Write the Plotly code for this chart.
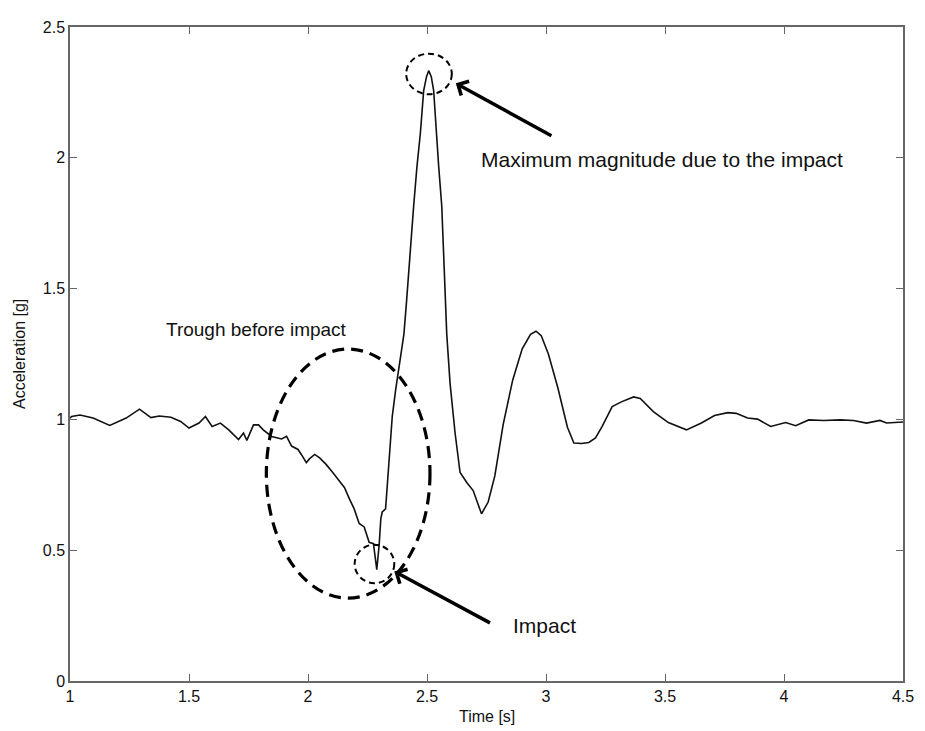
import plotly.graph_objects as go

# Time [s]
time_s = [1.0, 1.007, 1.042, 1.097, 1.167, 1.236, 1.292, 1.34, 1.375, 1.424, 1.465, 1.5, 1.542,
          1.569, 1.597, 1.632, 1.667, 1.708, 1.729, 1.743, 1.771, 1.792, 1.812, 1.847, 1.889,
          1.91, 1.931, 1.958, 1.972, 1.993, 2.007, 2.028, 2.049, 2.076, 2.104, 2.125, 2.153,
          2.174, 2.194, 2.215, 2.236, 2.257, 2.275, 2.289, 2.299, 2.306, 2.312, 2.326, 2.34,
          2.354, 2.368, 2.389, 2.403, 2.414, 2.424, 2.434, 2.444, 2.458, 2.472, 2.486, 2.498,
          2.507, 2.518, 2.528, 2.539, 2.549, 2.562, 2.572, 2.583, 2.597, 2.618, 2.639, 2.667,
          2.694, 2.729, 2.757, 2.785, 2.82, 2.86, 2.9, 2.935, 2.958, 2.98, 3.01, 3.05, 3.09,
          3.117, 3.15, 3.18, 3.208, 3.236, 3.278, 3.319, 3.368, 3.396, 3.451, 3.514, 3.59,
          3.653, 3.708, 3.764, 3.799, 3.847, 3.889, 3.944, 4.007, 4.049, 4.104, 4.167, 4.236,
          4.292, 4.347, 4.403, 4.431, 4.486, 4.5]
# Acceleration [g]
accel_g = [1.005, 1.011, 1.017, 1.005, 0.977, 1.005, 1.039, 1.007, 1.013, 1.008, 0.992, 0.967, 0.986,
           1.011, 0.973, 0.986, 0.96, 0.923, 0.948, 0.92, 0.979, 0.979, 0.96, 0.935, 0.925,
           0.935, 0.898, 0.885, 0.866, 0.835, 0.85, 0.866, 0.853, 0.828, 0.797, 0.772, 0.74,
           0.696, 0.658, 0.602, 0.589, 0.53, 0.525, 0.426, 0.52, 0.621, 0.646, 0.658, 0.822,
           1.011, 1.111, 1.25, 1.326, 1.45, 1.58, 1.71, 1.816, 1.968, 2.093, 2.257, 2.31,
           2.333, 2.31, 2.257, 2.093, 1.968, 1.816, 1.55, 1.326, 1.137, 0.948, 0.797, 0.759,
           0.728, 0.639, 0.684, 0.784, 0.98, 1.15, 1.27, 1.325, 1.337, 1.32, 1.25, 1.12, 0.97,
           0.91, 0.908, 0.912, 0.929, 0.973, 1.049, 1.068, 1.086, 1.08, 1.03, 0.988, 0.96,
           0.986, 1.015, 1.026, 1.023, 1.005, 1.001, 0.973, 0.988, 0.976, 0.998, 0.996, 0.998,
           0.996, 0.986, 0.996, 0.986, 0.988, 0.99]

x_ticks = [1, 1.5, 2, 2.5, 3, 3.5, 4, 4.5]
x_tick_labels = ["1", "1.5", "2", "2.5", "3", "3.5", "4", "4.5"]
y_ticks = [0, 0.5, 1, 1.5, 2, 2.5]
y_tick_labels = ["0", "0.5", "1", "1.5", "2", "2.5"]

FONT = "Liberation Sans, Arial, sans-serif"

fig = go.Figure()
fig.add_trace(go.Scatter(x=time_s, y=accel_g, mode="lines",
                         line=dict(color="#111111", width=1.6), showlegend=False))

# dashed ellipses (data coordinates)
fig.add_shape(type="circle", xref="x", yref="y", x0=1.825, x1=2.5125, y0=0.317, y1=1.269,
              line=dict(color="black", width=3.2, dash="12px,7px"))
fig.add_shape(type="circle", xref="x", yref="y", x0=2.196, x1=2.3625, y0=0.374, y1=0.521,
              line=dict(color="black", width=2, dash="6px,4px"))
fig.add_shape(type="circle", xref="x", yref="y", x0=2.4125, x1=2.6042, y0=2.243, y1=2.398,
              line=dict(color="black", width=2, dash="6px,4px"))

# arrows
fig.add_annotation(x=2.621, y=2.285, ax=3.029, ay=2.081, xref="x", yref="y", axref="x", ayref="y",
                   showarrow=True, arrowhead=4, arrowsize=0.9, arrowwidth=3.5, arrowcolor="black", text="")
fig.add_annotation(x=2.3625, y=0.419, ax=2.771, ay=0.219, xref="x", yref="y", axref="x", ayref="y",
                   showarrow=True, arrowhead=4, arrowsize=0.9, arrowwidth=3.5, arrowcolor="black", text="")

# labels
fig.add_annotation(x=2.717, y=1.994, xref="x", yref="y", xanchor="left", yanchor="middle",
                   text="Maximum magnitude due to the impact", showarrow=False,
                   font=dict(family=FONT, size=21, color="#111111"))
fig.add_annotation(x=1.396, y=1.344, xref="x", yref="y", xanchor="left", yanchor="middle",
                   text="Trough before impact", showarrow=False,
                   font=dict(family=FONT, size=19, color="#111111"))
fig.add_annotation(x=2.854, y=0.211, xref="x", yref="y", xanchor="left", yanchor="middle",
                   text="Impact", showarrow=False,
                   font=dict(family=FONT, size=21, color="#111111"))

# axis titles
fig.add_annotation(x=0, y=0.5, xref="paper", yref="paper", xanchor="center", yanchor="middle",
                   xshift=-51, textangle=-90, text="Acceleration [g]", showarrow=False,
                   font=dict(family=FONT, size=16, color="#111111"))
fig.add_annotation(x=0.5, y=0, xref="paper", yref="paper", xanchor="center", yanchor="middle",
                   yshift=-35, text="Time [s]", showarrow=False,
                   font=dict(family=FONT, size=16, color="#111111"))

axis_common = dict(showgrid=False, zeroline=False, showline=True, linecolor="#666666", linewidth=1.5,
                   mirror="ticks", ticks="inside", ticklen=7, tickwidth=1, tickcolor="#666666",
                   tickfont=dict(family=FONT, size=16, color="#111111"))
fig.update_xaxes(range=[1, 4.5], tickvals=x_ticks, ticktext=x_tick_labels, **axis_common)
fig.update_yaxes(range=[0, 2.5], tickvals=y_ticks, ticktext=y_tick_labels, **axis_common)

# page body has an 8px default margin, so the figure is sized to fill the rest of the window
fig.update_layout(width=917, height=723, margin=dict(l=62, r=16, t=11, b=50),
                  plot_bgcolor="white", paper_bgcolor="white", showlegend=False)

fig.write_html("out.html")
